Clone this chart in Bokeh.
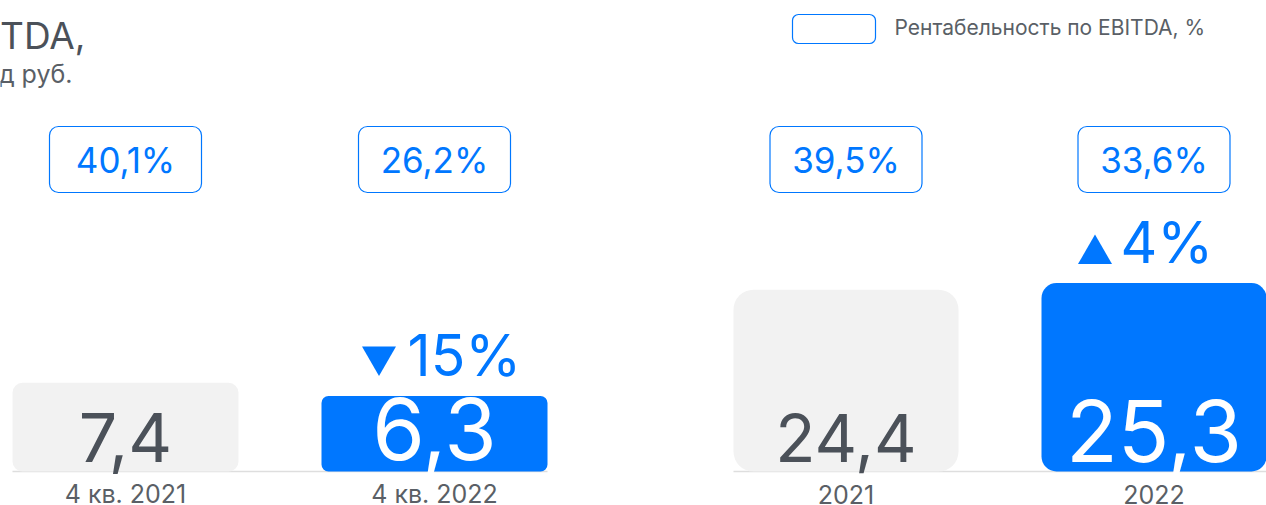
from bokeh.plotting import figure
from bokeh.models import Range1d
from bokeh.core.properties import value
from bokeh.embed import file_html
from bokeh.resources import INLINE

# ---------------- data ----------------
categories = ["4 кв. 2021", "4 кв. 2022", "2021", "2022"]
ebitda = [7.4, 6.3, 24.4, 25.3]          # млрд руб.
margins = [40.1, 26.2, 39.5, 33.6]       # Рентабельность по EBITDA, %
changes = [-15, 4]                       # % change of the highlighted bars
title = "EBITDA,"
subtitle = "млрд руб."
legend_label = "Рентабельность по EBITDA, %"

# ---------------- layout / style ----------------
BLUE = "#0077FF"
GRAY_BAR = "#F2F2F2"
DARK = "#4B5159"
LABEL = "#5A5F66"
FONT = value("Inter")
SHIFT = 0.38   # baseline correction (fraction of font size) for the svg text placement

W, H = 1266, 505
BASE = 471  # y of the baseline (pixels from top)
centers = [125, 434, 845.5, 1153.5]
bar_w = [226, 226, 225, 225]
panel = ["q", "q", "y", "y"]
scales = {"q": 12.0, "y": 7.45}     # px per unit
radii = [10, 7, 20, 15]
bar_colors = [GRAY_BAR, BLUE, GRAY_BAR, BLUE]
val_colors = [DARK, "white", DARK, "white"]
val_sizes = [68, 85, 66, 85]
val_base = [463, 461, 463, 463]


def by(baseline, size):
    return baseline - SHIFT * size


p = figure(width=W, height=H, x_range=Range1d(0, W), y_range=Range1d(H, 0),
           output_backend="svg", toolbar_location=None, min_border=0,
           x_axis_location=None, y_axis_location=None)
p.grid.visible = False
p.outline_line_color = None
p.background_fill_color = "white"
p.border_fill_color = "white"

p.extra_y_ranges = {
    name: Range1d(-(H - BASE) / s, BASE / s) for name, s in scales.items()
}

# baselines
for (x0, x1) in [(12, 547), (733, 1266)]:
    p.segment(x0=[x0], y0=[BASE], x1=[x1], y1=[BASE], line_color="#DEDEDE", line_width=1.5)

# bars
for i, v in enumerate(ebitda):
    p.vbar(x=[centers[i]], top=[v], bottom=0, width=bar_w[i], y_range_name=panel[i],
           fill_color=bar_colors[i], line_color=None, border_radius=radii[i])

# values inside bars
for i, v in enumerate(ebitda):
    p.text(x=[centers[i]], y=[by(val_base[i], val_sizes[i])], text=[f"{v:.1f}".replace(".", ",")],
           text_align="center", text_baseline="alphabetic", text_font=FONT,
           text_font_size=f"{val_sizes[i]}px", text_color=val_colors[i])

# category labels
p.text(x=centers, y=[by(503, 25)] * 4, text=categories, text_align="center",
       text_baseline="alphabetic", text_font=FONT, text_font_size="25px", text_color=LABEL)

# margin boxes
p.quad(left=[c - 76 for c in centers], right=[c + 76 for c in centers],
       top=[126] * 4, bottom=[192] * 4, fill_color="white", line_color=BLUE,
       line_width=1.2, border_radius=9)
p.text(x=centers, y=[by(173, 35)] * 4, text=[f"{m:.1f}".replace(".", ",") + "%" for m in margins],
       text_align="center", text_baseline="alphabetic", text_font=FONT,
       text_font_size="35px", text_color=BLUE)

# change labels above highlighted bars
hl = [1, 3]
tri_dx = [-55.5, -59]
txt_dx = [-27, -33.5]
CH_SIZE = 57
for k, i in enumerate(hl):
    s = scales[panel[i]]
    ch = changes[k]
    ybase = ebitda[i] + (19 + SHIFT * CH_SIZE) / s
    p.text(x=[centers[i] + txt_dx[k]], y=[ybase], text=[f"{abs(ch)}%"],
           y_range_name=panel[i], text_align="left", text_baseline="alphabetic",
           text_font=FONT, text_font_size=f"{CH_SIZE}px", text_color=BLUE)
    if ch < 0:
        ytri = ebitda[i] + (19 + 1 + 29.4 * 2 / 3) / s
        marker = "inverted_triangle"
    else:
        ytri = ebitda[i] + (19 + 0 + 29.4 / 3) / s
        marker = "triangle"
    p.scatter(x=[centers[i] + tri_dx[k]], y=[ytri], y_range_name=panel[i], marker=marker,
              size=34, fill_color=BLUE, line_color=None)

# title (clipped at the left edge, as in the original)
p.text(x=[85], y=[by(49, 37)], text=[title], text_align="right", text_baseline="alphabetic",
       text_font=FONT, text_font_size="37px", text_color=DARK)
p.text(x=[72], y=[by(83, 25)], text=[subtitle], text_align="right", text_baseline="alphabetic",
       text_font=FONT, text_font_size="25px", text_color=LABEL)

# legend
p.quad(left=[792], right=[875], top=[14], bottom=[43], fill_color="white",
       line_color=BLUE, line_width=1.2, border_radius=6)
p.text(x=[894], y=[by(35, 21)], text=[legend_label], text_align="left", text_baseline="alphabetic",
       text_font=FONT, text_font_size="21px", text_color=LABEL)

open("out.html", "w").write(file_html(p, INLINE))
